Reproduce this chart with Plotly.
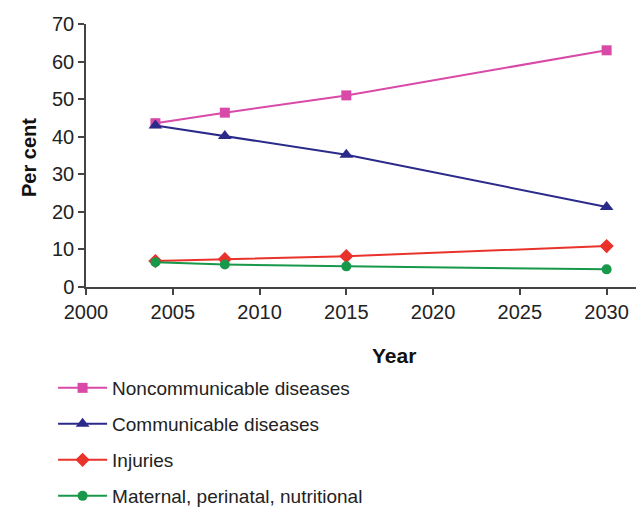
import plotly.graph_objects as go

years = [2004, 2008, 2015, 2030]
noncommunicable = [43.6, 46.4, 51.0, 63.0]
communicable = [43.0, 40.2, 35.2, 21.3]
injuries = [6.9, 7.4, 8.2, 10.9]
maternal = [6.6, 6.0, 5.5, 4.7]

series = [
    ("Noncommunicable diseases", noncommunicable, "#d94aa8", "square", 10),
    ("Communicable diseases", communicable, "#2b2a8a", "triangle-up", 12),
    ("Injuries", injuries, "#e8322a", "diamond", 11),
    ("Maternal, perinatal, nutritional", maternal, "#18984a", "circle", 10),
]

fig = go.Figure()
for i, (name, vals, color, sym, size) in enumerate(series):
    fig.add_trace(go.Scatter(
        x=years, y=vals, name=name, mode="lines+markers",
        line=dict(color=color, width=2),
        marker=dict(symbol=sym, size=size, color=color),
        legendgroup=f"g{i}",
    ))

font = "Liberation Sans, Arial, sans-serif"
fig.update_layout(
    width=644, height=508,
    margin=dict(l=78, r=2, t=16, b=229, autoexpand=False),
    paper_bgcolor="white", plot_bgcolor="white",
    font=dict(family=font, size=18, color="#222"),
    showlegend=True,
    legend=dict(
        xref="container", yref="container",
        x=0.07, y=1 - 361 / 508, xanchor="left", yanchor="top",
        font=dict(size=19, color="#222"),
        tracegroupgap=8.3, itemwidth=49,
        bgcolor="rgba(0,0,0,0)",
    ),
    xaxis=dict(
        range=[2000, 2032.5], tickmode="array",
        tickvals=[2000, 2005, 2010, 2015, 2020, 2025, 2030],
        ticks="outside", ticklen=6, tickwidth=1.5, tickcolor="#444",
        showline=True, linecolor="#444", linewidth=1.5,
        showgrid=False, zeroline=False,
        tickfont=dict(size=20), tickangle=0,
    ),
    yaxis=dict(
        range=[0, 70], tickmode="array",
        tickvals=[0, 10, 20, 30, 40, 50, 60, 70],
        ticks="outside", ticklen=6, tickwidth=1.5, tickcolor="#444",
        showline=True, linecolor="#444", linewidth=1.5,
        showgrid=False, zeroline=False,
        tickfont=dict(size=20),
    ),
    annotations=[
        dict(text="<b>Year</b>", xref="paper", yref="paper",
             x=(386 - 78) / (644 - 80), y=-(358 - 279 - 11) / 263.0,
             xanchor="center", yanchor="middle", showarrow=False,
             font=dict(size=21, color="#111")),
        dict(text="<b>Per cent</b>", xref="paper", yref="paper",
             x=-(78 - 21) / (644 - 80), y=(279 - 160 + 10) / 263.0,
             xanchor="center", yanchor="middle", showarrow=False,
             textangle=-90, font=dict(size=20, color="#111")),
    ],
)

fig.write_html("out.html")
